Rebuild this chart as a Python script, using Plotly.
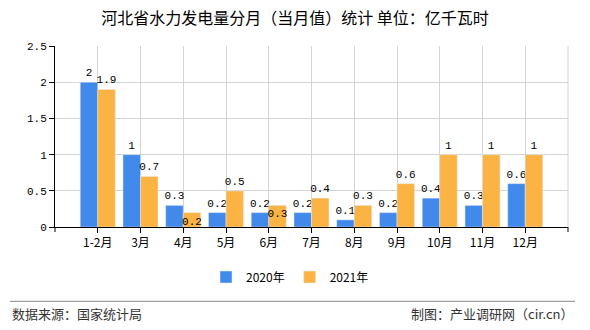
import plotly.graph_objects as go

categories = ["1-2月", "3月", "4月", "5月", "6月", "7月", "8月", "9月", "10月", "11月", "12月"]
values_2020 = [2, 1, 0.3, 0.2, 0.2, 0.2, 0.1, 0.2, 0.4, 0.3, 0.6]
values_2021 = [1.9, 0.7, 0.2, 0.5, 0.3, 0.4, 0.3, 0.6, 1, 1, 1]
pos_2021 = ["outside", "outside", "inside", "outside", "inside", "outside",
            "outside", "outside", "outside", "outside", "outside"]

mono = "Liberation Mono, DejaVu Sans Mono, monospace"
cjk = "Noto Sans CJK SC, Noto Sans, sans-serif"

fig = go.Figure()
fig.add_trace(go.Bar(
    name="2020年", x=categories, y=values_2020, marker_color="#418aeb",
    text=values_2020, texttemplate="%{y}", textposition="outside", textangle=0,
    textfont=dict(family=mono, size=11, color="#000"), cliponaxis=False,
    constraintext="none",
))
fig.add_trace(go.Bar(
    name="2021年", x=categories, y=values_2021, marker_color="#fbb443",
    text=values_2021, texttemplate="%{y}", textposition=pos_2021, textangle=0,
    insidetextanchor="end",
    textfont=dict(family=mono, size=11, color="#000"), cliponaxis=False,
    constraintext="none",
))

W, H = 590, 330
L, R, T, B = 55, 22, 46, 101
pw, ph = W - L - R, H - T - B

def px(x):
    return (x - L) / pw

def py(y):
    return (H - B - y) / ph

fig.update_layout(
    width=W, height=H,
    margin=dict(l=L, r=R, t=T, b=B),
    paper_bgcolor="white", plot_bgcolor="white",
    barmode="group", bargap=0.18, bargroupgap=0,
    uniformtext=dict(mode="show", minsize=11),
    title=dict(text="河北省水力发电量分月（当月值）统计 单位：亿千瓦时",
               x=0.5, xanchor="center", y=1 - 18 / H, yanchor="middle",
               font=dict(family=cjk, size=16, color="#000")),
    font=dict(family=cjk, size=12, color="#000"),
    legend=dict(orientation="h", xref="container", yref="container",
                x=290 / W, xanchor="center", y=1 - 277 / H, yanchor="middle",
                font=dict(family=cjk, size=12, color="#000"),
                itemwidth=30, traceorder="normal"),
    showlegend=True,
)
fig.update_xaxes(
    type="category", range=[-1, 11], showgrid=True, gridcolor="#d4d4d4",
    showline=True, linecolor="#000", linewidth=1,
    ticks="outside", ticklen=5, tickcolor="#000",
    tickfont=dict(family=cjk, size=12, color="#000"),
)
fig.update_yaxes(
    range=[0, 2.5], dtick=0.5, showgrid=True, gridcolor="#d4d4d4",
    zeroline=False, showline=True, linecolor="#000", linewidth=1,
    ticks="outside", ticklen=5, tickcolor="#000",
    tickfont=dict(family=mono, size=11, color="#000"),
)

shapes = [
    dict(type="line", xref="paper", yref="paper", x0=1, x1=1, y0=0, y1=1,
         line=dict(color="#d4d4d4", width=1)),
    dict(type="line", xref="paper", yref="paper", x0=0, x1=0, y0=0, y1=-5 / ph,
         line=dict(color="#000", width=1)),
    dict(type="line", xref="paper", yref="paper", x0=1, x1=1, y0=0, y1=-5 / ph,
         line=dict(color="#000", width=1)),
    dict(type="line", xref="paper", yref="paper", x0=px(10), x1=px(575),
         y0=py(304), y1=py(304), line=dict(color="#888", width=1)),
]
fig.update_layout(shapes=shapes)

fig.add_annotation(text="数据来源：国家统计局", xref="paper", yref="paper",
                   x=px(10), y=py(316), xanchor="left", yanchor="middle",
                   showarrow=False, font=dict(family=cjk, size=13, color="#333"))
fig.add_annotation(text="制图：产业调研网（cir.cn）", xref="paper", yref="paper",
                   x=px(575), y=py(316), xanchor="right", yanchor="middle",
                   showarrow=False, font=dict(family=cjk, size=13, color="#333"))

fig.write_html("out.html")
